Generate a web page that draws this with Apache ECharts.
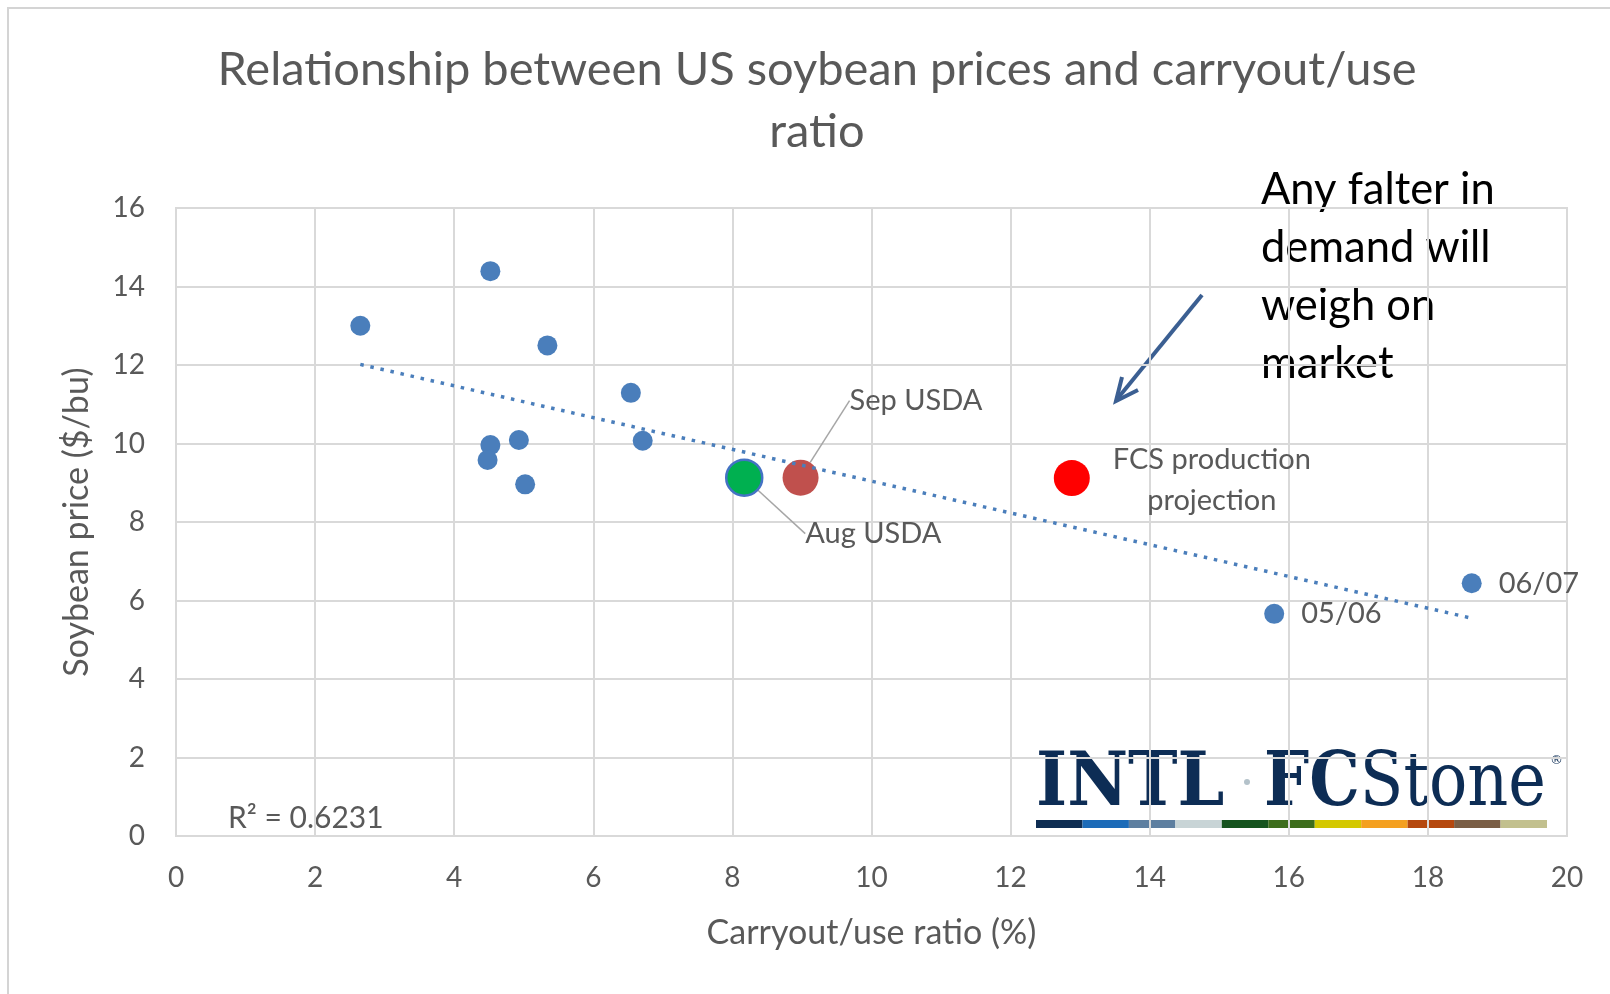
<!DOCTYPE html>
<html>
<head>
<meta charset="utf-8">
<title>US soybean prices vs carryout/use ratio</title>
<script src="https://cdn.jsdelivr.net/npm/echarts@6/dist/echarts.min.js"></script>
<style>
    html, body { margin: 0; padding: 0; background: #fff; }
    #chart { width: 1610px; height: 994px; }
</style>
</head>
<body>
<div id="chart"></div>
<script>
// past seasons: carryout/use ratio (%) vs soybean price ($/bu)
const pastRatio = [2.65, 4.52, 5.34, 6.54, 6.71, 4.93, 4.52, 4.48, 5.02, 15.79, 18.63];
const pastPrice = [13.0, 14.39, 12.5, 11.29, 10.07, 10.09, 9.96, 9.58, 8.96, 5.66, 6.44];
const pastLabels = ['', '', '', '', '', '', '', '', '', '05/06', '06/07'];

// current season estimates
const estNames = ['Aug USDA', 'Sep USDA', 'FCS production\nprojection'];
const estRatio = [8.17, 8.98, 12.88];
const estPrice = [9.13, 9.13, 9.12];

// axes
const xMin = 0, xMax = 20, xStep = 2;
const yMin = 0, yMax = 16, yStep = 2;

const r2Text = 'R\u00b2 = 0.6231';
const noteLines = ['Any falter in', 'demand will', 'weigh on', 'market'];

const FONT = 'Lato, "Noto Sans", sans-serif';
const GREY = '#595959';
const BLUE = '#4a7ebb';
const NAVY = '#0d2d55';
const estColors = ['#00b050', '#c0504d', '#ff0000'];
const logoBar = ['#0e2d52', '#1c6bb8', '#5e7fa0', '#c8d4d6', '#15531e', '#3d6d1c',
    '#d4c800', '#f4a020', '#b5480e', '#7a5e45', '#c2c08e'];

// least squares trendline through the past seasons
function linearFit(xs, ys) {
    let n = xs.length, mx = 0, my = 0;
    for (let i = 0; i < n; i++) { mx += xs[i] / n; my += ys[i] / n; }
    let sxy = 0, sxx = 0;
    for (let i = 0; i < n; i++) {
        sxy += (xs[i] - mx) * (ys[i] - my);
        sxx += (xs[i] - mx) * (xs[i] - mx);
    }
    const slope = sxy / sxx;
    return x => my + slope * (x - mx);
}
const fit = linearFit(pastRatio, pastPrice);
const trendX = [Math.min(...pastRatio), Math.max(...pastRatio)];

// where the estimate labels sit relative to their dot
const estLabelPos = [
    { dx: 61, dy: 56, align: 'left', line: [[3, 4], [36, 56], [51, 56]] },
    { dx: 49, dy: -77, align: 'left', line: [[0, -2], [20, -80], [40, -80]] },
    { dx: 140, dy: 2, align: 'center', line: null }
];

// logo: wordmark plus the colour strip under it
const logoX = 1036, logoW = 511;
const logoGraphics = [{
    type: 'text',
    x: 1036, y: 749, scaleX: 0.9,
    style: { text: 'INTL', fontFamily: 'DejaVu Serif', fontWeight: 'bold', fontSize: 74, fill: NAVY }
}, {
    type: 'circle',
    shape: { cx: 1247, cy: 782, r: 3 },
    style: { fill: '#b4c2ca' }
}, {
    type: 'text',
    x: 1264, y: 749, scaleX: 0.86,
    style: {
        text: '{a|FC}{b|Stone}',
        rich: {
            a: { fontFamily: 'DejaVu Serif', fontWeight: 'bold', fontSize: 74, fill: NAVY },
            b: { fontFamily: 'DejaVu Serif', fontSize: 74, fill: NAVY }
        }
    }
}, {
    type: 'text',
    x: 1550, y: 754,
    style: { text: '\u00ae', fontFamily: 'DejaVu Sans', fontSize: 13, fill: NAVY }
}];
logoBar.forEach((c, i) => {
    logoGraphics.push({
        type: 'rect',
        shape: { x: logoX + i * logoW / logoBar.length, y: 820, width: logoW / logoBar.length, height: 8 },
        style: { fill: c }
    });
});

let chart = echarts.init(document.getElementById('chart'));
chart.setOption({
    animation: false,
    backgroundColor: '#fff',
    title: {
        text: 'Relationship between US soybean prices and carryout/use\nratio',
        left: 812,
        top: 34,
        textAlign: 'center',
        textStyle: { fontFamily: FONT, fontSize: 47, fontWeight: 'normal', color: GREY, lineHeight: 62 }
    },
    grid: {
        left: 176, right: 43, top: 208, bottom: 158,
        show: true, borderColor: '#d9d9d9', borderWidth: 2
    },
    xAxis: {
        type: 'value', min: xMin, max: xMax, interval: xStep,
        name: 'Carryout/use ratio (%)', nameLocation: 'middle', nameGap: 80,
        nameTextStyle: { fontFamily: FONT, fontSize: 34, color: GREY },
        axisLine: { show: false },
        axisTick: { show: false },
        axisLabel: { fontFamily: FONT, fontSize: 28, color: GREY, margin: 28 },
        splitLine: { lineStyle: { color: '#d9d9d9', width: 2 } }
    },
    yAxis: {
        type: 'value', min: yMin, max: yMax, interval: yStep,
        name: 'Soybean price ($/bu)', nameLocation: 'middle', nameGap: 82,
        nameTextStyle: { fontFamily: FONT, fontSize: 34, color: GREY },
        axisLine: { show: false },
        axisTick: { show: false },
        axisLabel: { fontFamily: FONT, fontSize: 28, color: GREY, margin: 31 },
        splitLine: { lineStyle: { color: '#d9d9d9', width: 2 } }
    },
    series: [{
        name: 'Past seasons',
        type: 'scatter',
        symbolSize: 20,
        itemStyle: { color: BLUE, opacity: 1 },
        data: pastRatio.map((x, i) => [x, pastPrice[i], pastLabels[i]]),
        label: {
            show: true,
            position: 'right',
            distance: 17,
            formatter: p => p.data[2],
            fontFamily: FONT, fontSize: 29, color: GREY
        },
        z: 3
    }, {
        name: 'Estimates',
        type: 'scatter',
        symbolSize: 36,
        data: estRatio.map((x, i) => ({
            value: [x, estPrice[i]],
            name: estNames[i],
            itemStyle: i === 0
                ? { color: estColors[i], borderColor: '#4472c4', borderWidth: 2.5, opacity: 1 }
                : { color: estColors[i], opacity: 1 },
            labelLine: { show: !!estLabelPos[i].line }
        })),
        label: {
            show: true,
            formatter: p => p.name,
            fontFamily: FONT, fontSize: 29, color: GREY, lineHeight: 41
        },
        labelLine: { show: true, lineStyle: { color: '#a6a6a6', width: 1.5 } },
        labelLayout: function (params) {
            const pos = estLabelPos[params.dataIndex];
            const r = params.rect;
            const cx = r.x + r.width / 2, cy = r.y + r.height / 2;
            const out = {
                x: cx + pos.dx, y: cy + pos.dy,
                align: pos.align, verticalAlign: 'middle'
            };
            if (pos.line) {
                out.labelLinePoints = pos.line.map(p => [cx + p[0], cy + p[1]]);
            }
            return out;
        },
        z: 3
    }, {
        name: 'Linear trend',
        type: 'line',
        symbol: 'none',
        silent: true,
        data: trendX.map(x => [x, fit(x)]),
        lineStyle: { color: BLUE, width: 3.5, type: [3.5, 6.8] },
        z: 5
    }],
    graphic: [{
        type: 'rect',
        shape: { x: 8, y: 8, width: 1640, height: 1020 },
        style: { fill: 'none', stroke: '#d4d4d4', lineWidth: 2 },
        z: -1
    }, {
        type: 'text',
        left: 228, top: 803,
        style: { text: r2Text, fontFamily: FONT, fontSize: 30, fill: GREY }
    }, {
        type: 'text',
        left: 1261, top: 161,
        style: { text: noteLines.join('\n'), fontFamily: FONT, fontSize: 43.5, lineHeight: 58, fill: '#000' }
    }, {
        type: 'group',
        children: [{
            type: 'line',
            shape: { x1: 1202, y1: 295, x2: 1118, y2: 398 },
            style: { stroke: '#3b5f92', lineWidth: 4 }
        }, {
            type: 'polyline',
            shape: { points: [[1122, 377], [1116, 401], [1138, 390]] },
            style: { stroke: '#3b5f92', lineWidth: 4, fill: 'none', lineJoin: 'miter' }
        }]
    }].concat(logoGraphics)
});
</script>
</body>
</html>
